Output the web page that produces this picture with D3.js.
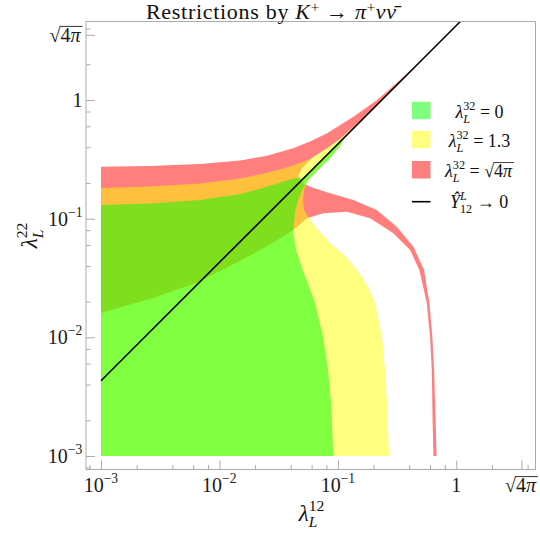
<!DOCTYPE html>
<html><head><meta charset="utf-8">
<script src="https://cdn.jsdelivr.net/npm/d3@7"></script>
<style>html,body{margin:0;padding:0;background:#fff;} svg{display:block;}</style>
</head><body><svg id="c" width="540" height="535"></svg>
<script>
// ---------- data ----------
const SQ4PI = Math.sqrt(4 * Math.PI);
const xMajorTicks = [0.001, 0.01, 0.1, 1, SQ4PI];
const yMajorTicks = [0.001, 0.01, 0.1, 1, SQ4PI];
const minorTicks = [0.0008, 0.002, 0.004, 0.006, 0.008, 0.02, 0.04, 0.06, 0.08, 0.2, 0.4, 0.6, 0.8, 2, 4];
const tickBases = ["10", "10", "10", "1", "sqrt"];
const tickExps = ["\u22123", "\u22122", "\u22121", "", ""];

// lambda_L^32 = sqrt(4 pi): band region (outer edge, then inner edge)
const regionRed = [[0.001,0.2741],[0.002594,0.2779],[0.006857,0.2888],[0.01493,0.3091],[0.02474,0.3373],[0.04183,0.3916],[0.05824,0.4470],[0.08104,0.5240],[0.1344,0.7190],[0.2144,1.000],[0.3352,1.474],[0.4666,2.011],[0.3352,1.418],[0.2272,0.9618],[0.1540,0.6653],[0.1044,0.4692],[0.08104,0.3916],[0.06055,0.3245],[0.04984,0.2673],[0.04612,0.2288],[0.05082,0.1997],[0.05824,0.1859],[0.08592,0.1636],[0.1352,0.1437],[0.2131,0.1183],[0.3144,0.08557],[0.4343,0.05804],[0.5346,0.03693],[0.5925,0.01947],[0.6281,0.01006],[0.6494,0.005305],[0.6687,0.002011],[0.6817,0.001],[0.6405,0.001],[0.6306,0.002011],[0.6209,0.005305],[0.6006,0.01006],[0.5633,0.01947],[0.4879,0.03693],[0.4073,0.05445],[0.2942,0.07526],[0.1871,0.1007],[0.1189,0.1145],[0.07543,0.1110],[0.05461,0.1007],[0.04208,0.08023],[0.02474,0.05771],[0.01229,0.03991],[0.006343,0.02870],[0.002749,0.02145],[0.001,0.01603]];
// lambda_L^32 = 1.3
const regionYellow = [[0.001,0.001],[0.001,0.1814],[0.002594,0.1866],[0.006857,0.1978],[0.01493,0.2181],[0.02474,0.2425],[0.03581,0.2673],[0.04794,0.2945],[0.06055,0.3245],[0.08104,0.3916],[0.1044,0.4692],[0.1540,0.6653],[0.2272,0.9618],[0.3352,1.418],[0.4666,2.011],[0.1150,0.4877],[0.1044,0.4096],[0.08592,0.3245],[0.06805,0.2571],[0.05602,0.2117],[0.05182,0.1744],[0.05082,0.1437],[0.05182,0.1183],[0.05824,0.09743],[0.07074,0.07719],[0.08592,0.06235],[0.1150,0.04845],[0.1453,0.03693],[0.1799,0.02655],[0.2061,0.01947],[0.2362,0.01006],[0.2503,0.005305],[0.2602,0.002796],[0.2706,0.001]];
// lambda_L^32 = 0
const regionGreen = [[0.001,0.001],[0.001,0.1303],[0.002594,0.1342],[0.006857,0.1437],[0.01493,0.1614],[0.02474,0.1849],[0.03581,0.2076],[0.04436,0.2201],[0.05082,0.2171],[0.1150,0.4877],[0.1044,0.4096],[0.08592,0.3245],[0.06805,0.2571],[0.05602,0.2117],[0.04984,0.1744],[0.04612,0.1437],[0.04350,0.1138],[0.04183,0.07719],[0.04436,0.05445],[0.05052,0.03693],[0.06418,0.01947],[0.07499,0.01006],[0.08263,0.005305],[0.08762,0.002796],[0.09162,0.001]];
// Y_12^L -> 0 line
const zeroLine = [[0.001,0.00431],[1.081,4.585]];

const legendLabels = ["=0", "=1.3", "=sqrt", "Y"];
const legendColors = ["#00ff00", "#ffff00", "#ff0000"];

// ---------- setup ----------
const SERIF = "'Liberation Serif','Times New Roman',serif";
const svg = d3.select("#c");
const frame = {l: 86, r: 535.5, t: 21.5, b: 469.5};
const x = d3.scaleLog().domain([0.001, SQ4PI]).range([101, 521.4]);
const y = d3.scaleLog().domain([0.001, SQ4PI]).range([456, 34.8]);
const canvasCtx = document.createElement("canvas").getContext("2d");

function mathText(parent, items, size, px, py, anchor, color, spacing) {
  const g = parent.append("g");
  const text = g.append("text").attr("font-family", SERIF).attr("font-size", size)
    .attr("fill", color || "#000").attr("x", 0).attr("y", 0);
  if (spacing) text.attr("letter-spacing", spacing);
  let pend = {dx: 0, dy: 0};
  const rad = []; let sq = null;
  for (const it of items) {
    if (it.sup !== undefined && it.sub !== undefined) {
      const ss = size * 0.68, up = size * 0.42, down = size * 0.27;
      const a = text.append("tspan").attr("font-size", ss).attr("font-style", it.supIt ? "italic" : "normal")
        .attr("dx", pend.dx).attr("dy", pend.dy - up).text(it.sup);
      const w1 = a.node().getComputedTextLength();
      const b = text.append("tspan").attr("font-size", ss).attr("font-style", it.subIt ? "italic" : "normal")
        .attr("dx", -w1).attr("dy", up + down).text(it.sub);
      const w2 = b.node().getComputedTextLength();
      pend = {dx: Math.max(w1, w2) - w2, dy: -down};
    } else if (it.sup !== undefined) {
      const ss = size * 0.68, up = size * (it.up || 0.42);
      text.append("tspan").attr("font-size", ss).attr("font-style", it.supIt ? "italic" : "normal")
        .attr("dx", pend.dx).attr("dy", pend.dy - up).text(it.sup);
      pend = {dx: 0, dy: up};
    } else {
      const s = text.append("tspan").attr("font-style", it.it ? "italic" : "normal")
        .attr("dx", pend.dx + (it.dx || 0)).attr("dy", pend.dy).text(it.t);
      if (it.rad) rad.push(s.node());
      if (it.sqrt) sq = s.node();
      pend = {dx: 0, dy: 0};
    }
  }
  if (sq && rad.length) {
    canvasCtx.font = size + "px " + SERIF;
    const asc = canvasCtx.measureText("\u221a").actualBoundingBoxAscent;
    const sb = sq.getBBox();
    const rb = rad[rad.length - 1].getBBox();
    const yy = -asc + size * 0.03;
    g.append("line").attr("x1", sb.x + sb.width - size * 0.04).attr("x2", rb.x + rb.width + 1)
      .attr("y1", yy).attr("y2", yy).attr("stroke", color || "#000").attr("stroke-width", size * 0.045);
  }
  const bb = g.node().getBBox();
  let tx = px;
  if (anchor === "middle") tx = px - (bb.x + bb.width / 2);
  else if (anchor === "end") tx = px - (bb.x + bb.width);
  g.attr("transform", `translate(${tx},${py})`);
  return g;
}
const sqrtItems = [{t: "\u221a", sqrt: true}, {t: "4", rad: true}, {t: "\u03c0", it: true, rad: true}];

// ---------- regions ----------
svg.append("clipPath").attr("id", "clip").append("rect")
  .attr("x", frame.l).attr("y", frame.t).attr("width", frame.r - frame.l).attr("height", frame.b - frame.t);
const plot = svg.append("g").attr("clip-path", "url(#clip)");
const poly = d3.line().x(d => x(d[0])).y(d => y(d[1])).curve(d3.curveLinearClosed);
[[regionRed, legendColors[2]], [regionYellow, legendColors[1]], [regionGreen, legendColors[0]]].forEach(([r, c]) => {
  plot.append("path").attr("d", poly(r)).attr("fill", c).attr("fill-opacity", 0.5).attr("stroke", "none");
});
plot.append("path").attr("d", d3.line().x(d => x(d[0])).y(d => y(d[1]))(zeroLine))
  .attr("fill", "none").attr("stroke", "#000").attr("stroke-width", 1.6);

// ---------- axes ----------
const axisColor = "#ababab";
function styleAxis(g) {
  g.select(".domain").remove();
  g.selectAll(".tick line").attr("stroke", axisColor).attr("stroke-width", 1);
  g.selectAll(".tick text").remove();
}
svg.append("g").attr("transform", `translate(0,${frame.b})`)
  .call(d3.axisBottom(x).tickValues(xMajorTicks).tickSize(-9).tickFormat("")).call(styleAxis);
svg.append("g").attr("transform", `translate(0,${frame.b})`)
  .call(d3.axisBottom(x).tickValues(minorTicks).tickSize(-4.5).tickFormat("")).call(styleAxis);
svg.append("g").attr("transform", `translate(${frame.l},0)`)
  .call(d3.axisLeft(y).tickValues(yMajorTicks).tickSize(-9).tickFormat("")).call(styleAxis);
svg.append("g").attr("transform", `translate(${frame.l},0)`)
  .call(d3.axisLeft(y).tickValues(minorTicks).tickSize(-4.5).tickFormat("")).call(styleAxis);

svg.append("rect").attr("x", frame.l).attr("y", frame.t).attr("width", frame.r - frame.l)
  .attr("height", frame.b - frame.t).attr("fill", "none").attr("stroke", axisColor).attr("stroke-width", 1);

const labelColor = "#1a1a1a";
function tickItems(i) {
  if (tickBases[i] === "sqrt") return sqrtItems;
  const its = [{t: tickBases[i]}];
  if (tickExps[i]) its.push({sup: tickExps[i], up: 0.45});
  return its;
}
xMajorTicks.forEach((v, i) => mathText(svg, tickItems(i), 20, x(v), 492, "middle", labelColor));
yMajorTicks.forEach((v, i) => mathText(svg, tickItems(i), 20, 82.5, y(v) + 7, "end", labelColor));

// axis titles
mathText(svg, [{t: "\u03bb", it: true}, {sup: "12", sub: "L", subIt: true}], 23, 311, 521, "middle", "#111");
const yt = svg.append("g").attr("transform", "translate(37,236) rotate(-90)");
mathText(yt, [{t: "\u03bb", it: true}, {sup: "22", sub: "L", subIt: true}], 23, 0, 0, "middle", "#111");

// title
mathText(svg, [{t: "Restrictions by "}, {t: "K", it: true}, {sup: "+", up: 0.3}, {t: " \u2192 "}, {t: "\u03c0", it: true}, {sup: "+", up: 0.3},
  {t: "\u03bd", it: true}, {t: "\u03bd\u0304", it: true}], 22, 274, 19, "middle", "#111", 0.7);

// ---------- legend ----------
const lg = svg.append("g");
const swY = [101.7, 130.7, 161];
legendColors.forEach((c, i) => {
  lg.append("rect").attr("x", 412).attr("y", swY[i]).attr("width", 18.5).attr("height", 17.5)
    .attr("fill", c).attr("fill-opacity", 0.5);
});
lg.append("line").attr("x1", 412).attr("x2", 430.5).attr("y1", 201.7).attr("y2", 201.7)
  .attr("stroke", "#000").attr("stroke-width", 1.6);
const lam = [{t: "\u03bb", it: true}, {sup: "32", sub: "L", subIt: true}];
const legendItems = legendLabels.map(l => {
  if (l === "=0") return lam.concat([{t: " = 0"}]);
  if (l === "=1.3") return lam.concat([{t: " = 1.3"}]);
  if (l === "=sqrt") return lam.concat([{t: " = "}], sqrtItems);
  return [{t: "\u0176", it: true}, {sup: "L", supIt: true, sub: "12"}, {t: " \u2192 0"}];
});
const legBase = [118, 147, 177, 208];
legendItems.forEach((its, i) => mathText(lg, its, 18, 479, legBase[i], "middle", "#111"));
</script></body></html>
